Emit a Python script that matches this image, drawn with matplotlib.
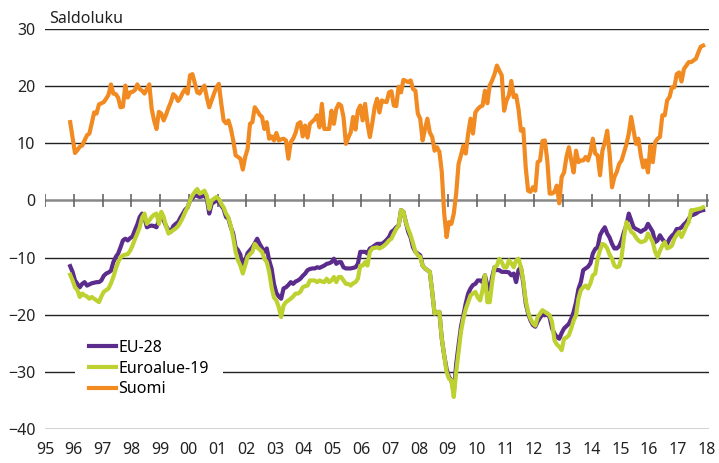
import matplotlib.pyplot as plt
import numpy as np

plt.rcParams['font.family'] = ['Noto Sans', 'DejaVu Sans']

# Monthly balance figures, Nov 1995 - Nov 2017
eu28 = [
    -11.5, -12.5,
    -14.0, -14.6, -15.2, -14.6, -14.3, -14.9, -14.7, -14.5, -14.4, -14.3, -14.3, -14.0,
    -13.2, -12.8, -12.6, -12.3, -10.8, -9.9, -9.3, -8.2, -7.0, -6.7, -7.0, -6.6,
    -6.3, -5.2, -4.2, -2.9, -2.3, -3.0, -4.7, -4.5, -4.4, -4.5, -4.7, -3.5,
    -2.9, -3.5, -4.5, -5.2, -5.5, -4.5, -4.1, -3.8, -3.0, -2.3, -1.6, -1.2,
    0.0, 0.4, 0.9, 0.8, 0.6, 0.7, 0.9, 0.3, -2.3, -0.6, -0.3, 0.0,
    -0.3, -0.9, -1.5, -2.9, -3.2, -4.7, -5.8, -8.2, -8.7, -9.5, -12.2, -10.5,
    -9.2, -8.7, -8.2, -7.5, -6.7, -7.6, -8.3, -9.0, -8.4, -10.5, -11.9, -14.6,
    -16.2, -16.8, -17.2, -15.4, -15.2, -14.8, -14.3, -14.6, -14.2, -14.0, -13.7, -13.2,
    -12.8, -12.2, -12.0, -11.9, -11.9, -11.7, -11.8, -11.6, -11.4, -11.1, -11.0, -10.8,
    -10.2, -11.1, -10.8, -10.8, -11.7, -11.9, -11.9, -11.9, -11.8, -11.7, -11.1, -9.0,
    -9.0, -9.0, -9.3, -8.4, -8.2, -7.9, -7.6, -7.6, -7.6, -7.3, -6.9, -6.4,
    -5.5, -5.2, -4.7, -4.4, -1.7, -2.0, -3.8, -5.5, -6.5, -8.2, -9.0, -9.3,
    -9.6, -11.4, -11.9, -12.2, -12.5, -16.0, -19.8, -19.6, -19.5, -24.2, -27.1, -29.5,
    -30.9, -31.5, -33.5, -28.7, -25.3, -22.1, -20.1, -18.0, -16.3, -15.4, -14.8, -14.6,
    -14.0, -14.0, -14.3, -13.1, -14.9, -15.7, -13.4, -11.7, -12.2, -12.2, -12.5, -12.5,
    -12.5, -12.6, -13.1, -12.8, -14.3, -12.2, -11.7, -14.5, -18.0, -19.8, -21.0, -21.8,
    -22.1, -21.2, -20.5, -20.0, -20.1, -19.8, -20.5, -22.4, -23.3, -23.9, -24.2, -23.2,
    -22.4, -22.0, -21.6, -20.7, -19.5, -17.8, -15.5, -14.3, -12.2, -11.9, -11.6, -11.0,
    -9.3, -8.5, -8.2, -6.1, -5.3, -4.7, -5.8, -6.5, -7.6, -8.4, -8.4, -8.0,
    -7.0, -5.5, -4.4, -2.3, -3.5, -4.7, -5.0, -5.2, -5.5, -5.2, -5.0, -4.1,
    -4.8, -5.5, -7.3, -7.0, -6.1, -6.8, -7.3, -7.6, -6.7, -6.2, -5.8, -5.0,
    -5.0, -4.7, -4.2, -3.8, -3.2, -2.6, -2.5, -2.3, -2.0, -1.8, -1.7,
]

euro19 = [
    -13.0, -14.0,
    -15.2, -15.7, -16.9, -16.3, -16.6, -16.8, -17.2, -16.9, -17.2, -17.5, -17.8, -16.8,
    -16.0, -15.7, -15.4, -14.5, -13.4, -12.0, -10.8, -10.0, -9.6, -9.5, -9.4, -8.8,
    -7.9, -6.8, -5.8, -4.7, -3.0, -2.3, -4.1, -3.5, -2.9, -2.5, -2.3, -4.1,
    -2.0, -2.9, -4.5, -5.8, -5.5, -5.2, -4.9, -4.5, -3.8, -3.0, -2.0, -1.2,
    0.0, 0.9, 1.5, 2.0, 1.2, 1.4, 1.7, 0.8, -1.5, 0.0, 0.3, 0.6,
    0.3, -0.6, -1.2, -2.3, -3.0, -4.5, -6.5, -9.0, -10.5, -11.4, -12.8, -11.4,
    -9.9, -9.4, -9.0, -7.6, -8.2, -8.6, -9.0, -10.2, -10.8, -12.5, -15.2, -17.0,
    -17.5, -18.7, -20.4, -18.4, -17.8, -17.5, -17.2, -16.8, -16.3, -16.3, -16.0, -15.2,
    -15.0, -14.9, -14.0, -14.0, -14.0, -14.3, -14.0, -14.2, -14.3, -13.7, -14.3, -14.0,
    -13.4, -14.3, -13.4, -13.4, -14.0, -14.6, -14.6, -14.9, -14.5, -14.3, -13.7, -11.4,
    -11.4, -10.8, -11.4, -9.0, -8.4, -8.3, -8.2, -8.4, -8.2, -7.9, -7.5, -7.0,
    -6.7, -5.8, -5.0, -4.4, -1.7, -2.0, -3.8, -5.0, -6.1, -7.5, -9.0, -9.6,
    -9.9, -11.4, -11.9, -12.2, -12.5, -16.0, -19.8, -19.6, -19.5, -24.2, -27.1, -30.0,
    -31.2, -31.5, -34.4, -30.0, -26.5, -23.0, -20.7, -19.0, -17.8, -16.6, -16.3, -16.0,
    -17.0, -17.5, -15.7, -13.1, -17.8, -17.8, -14.3, -11.7, -11.4, -10.2, -10.8, -11.7,
    -11.7, -10.5, -11.0, -11.7, -10.5, -10.2, -11.7, -14.0, -17.5, -19.5, -20.7, -21.5,
    -21.9, -20.4, -19.8, -19.2, -19.5, -19.8, -20.1, -21.3, -24.5, -25.2, -25.6, -26.2,
    -24.2, -24.0, -23.6, -22.4, -21.0, -20.1, -17.2, -15.7, -15.2, -14.9, -15.4, -14.5,
    -13.1, -12.8, -10.2, -8.7, -7.6, -7.8, -8.4, -9.5, -10.2, -11.4, -11.7, -11.5,
    -9.9, -6.4, -3.8, -4.5, -5.5, -5.8, -6.5, -7.0, -7.3, -7.2, -7.0, -5.8,
    -6.5, -7.3, -9.0, -9.9, -8.8, -7.9, -7.3, -8.4, -8.2, -7.9, -6.7, -6.0,
    -5.5, -6.4, -5.5, -4.5, -3.8, -1.7, -1.7, -1.6, -1.5, -1.4, -1.2,
]

suomi = [
    13.7, 11.0,
    8.3, 8.8, 9.4, 9.6, 10.5, 11.4, 11.7, 13.5, 15.4, 15.2, 16.8, 17.0,
    17.2, 17.8, 18.5, 20.3, 18.7, 18.6, 18.0, 16.3, 16.4, 20.1, 18.0, 18.9,
    19.0, 19.3, 20.3, 19.5, 19.2, 18.7, 19.5, 20.3, 16.0, 14.0, 12.5, 15.5,
    15.2, 14.0, 15.0, 16.2, 17.2, 18.6, 18.2, 17.4, 18.0, 18.9, 19.5, 18.7,
    21.9, 22.1, 20.5, 18.9, 18.7, 19.5, 20.1, 18.0, 16.3, 17.5, 18.7, 19.8,
    20.4, 17.0, 14.0, 13.5, 14.0, 12.6, 10.5, 7.9, 7.6, 7.3, 5.4, 7.6,
    9.0, 13.4, 13.7, 16.3, 15.7, 15.0, 14.6, 12.5, 13.7, 10.8, 11.2, 10.5,
    11.8, 10.5, 10.7, 10.8, 10.5, 7.3, 10.2, 10.8, 11.8, 13.4, 13.7, 11.2,
    13.1, 11.0, 13.4, 13.8, 14.2, 14.9, 12.8, 16.9, 12.5, 12.5, 12.5, 15.7,
    13.4, 16.0, 16.9, 16.6, 14.6, 9.9, 11.0, 11.9, 14.6, 12.4, 15.7, 16.6,
    14.0, 16.9, 13.5, 11.1, 13.5, 16.3, 17.8, 15.4, 17.5, 17.3, 17.2, 18.9,
    19.1, 16.6, 16.5, 19.9, 18.9, 21.1, 20.9, 20.7, 21.0, 19.5, 19.2, 15.2,
    14.3, 10.5, 12.5, 14.3, 11.9, 11.1, 8.7, 9.3, 8.5, 5.0, -2.3, -6.4,
    -3.8, -4.1, -2.3, 1.2, 6.4, 7.9, 9.6, 8.2, 11.7, 14.3, 11.7, 15.4,
    16.0, 16.4, 16.6, 19.2, 17.0, 20.1, 21.0, 22.1, 23.6, 22.7, 21.9, 15.7,
    17.5, 18.4, 20.9, 18.1, 18.4, 16.0, 12.2, 12.5, 5.8, 1.7, 1.5, 2.3,
    1.7, 6.7, 7.0, 10.4, 10.5, 7.0, 1.2, 1.2, 1.5, 2.6, -0.5, 4.1,
    4.9, 7.6, 9.3, 7.0, 4.9, 8.7, 6.7, 7.0, 7.0, 7.6, 7.0, 8.4,
    10.8, 8.2, 7.9, 4.4, 8.7, 10.2, 12.2, 8.2, 2.3, 4.1, 5.0, 6.4,
    7.0, 8.4, 9.8, 11.7, 14.6, 12.2, 9.9, 10.8, 7.9, 5.8, 7.0, 4.9,
    9.6, 6.7, 10.2, 10.8, 11.1, 14.9, 14.9, 17.5, 18.1, 19.8, 19.8, 22.1,
    22.4, 20.8, 23.0, 23.6, 24.2, 24.2, 24.5, 24.8, 25.9, 26.9, 27.1,
]

years = list(range(1995, 2019))
year_labels = [str(y)[2:] for y in years]
y_ticks = [30, 20, 10, 0, -10, -20, -30, -40]

# time axis: mid-month positions starting Nov 1995
t = 1995 + (10 + 0.5) / 12 + np.arange(len(suomi)) / 12

c_eu = '#5B2C8C'
c_euro = '#BDD231'
c_fi = '#F28A22'

fig = plt.figure(figsize=(7.19, 4.63), dpi=100)
ax = fig.add_axes([0.0626, 0.0734, 0.9235, 0.864])
ax.set_xlim(1995, 2018.08)
ax.set_ylim(-40, 30)

for v in y_ticks:
    if v == 0:
        continue
    ax.axhline(v, color='#222222', lw=1.0, zorder=1)
ax.axhline(0, color='#888888', lw=1.8, zorder=1)
ax.vlines(years, -1.1, 1.1, color='#666666', lw=1.2, zorder=1)

ax.plot(t, eu28, color=c_eu, lw=3, label='EU-28', zorder=3, solid_joinstyle='round')
ax.plot(t, euro19, color=c_euro, lw=3, label='Euroalue-19', zorder=4, solid_joinstyle='round')
ax.plot(t, suomi, color=c_fi, lw=3, label='Suomi', zorder=5, solid_joinstyle='round')

for s in ax.spines.values():
    s.set_visible(False)
ax.set_xticks(years)
ax.set_xticklabels(year_labels)
ax.set_yticks(y_ticks)
ax.set_yticklabels([f'{v}'.replace('-', '\u2212') for v in y_ticks])
ax.tick_params(axis='both', length=0, labelsize=11.5, colors='#222222')
ax.tick_params(axis='x', pad=9)
ax.tick_params(axis='y', pad=7)

ax.text(0.0069, 1.005, 'Saldoluku', transform=ax.transAxes, fontsize=11.5,
        color='#222222', va='bottom', ha='left')

leg = ax.legend(loc='lower left', bbox_to_anchor=(0.045, 0.043), frameon=True,
                fontsize=11.5, handlelength=1.7, handletextpad=0.1,
                labelspacing=0.3, borderpad=0.9, borderaxespad=0)
leg.get_frame().set_edgecolor('none')
leg.get_frame().set_facecolor('white')
leg.get_frame().set_alpha(1)
leg.set_zorder(10)

fig.savefig('out.png', dpi=100)
